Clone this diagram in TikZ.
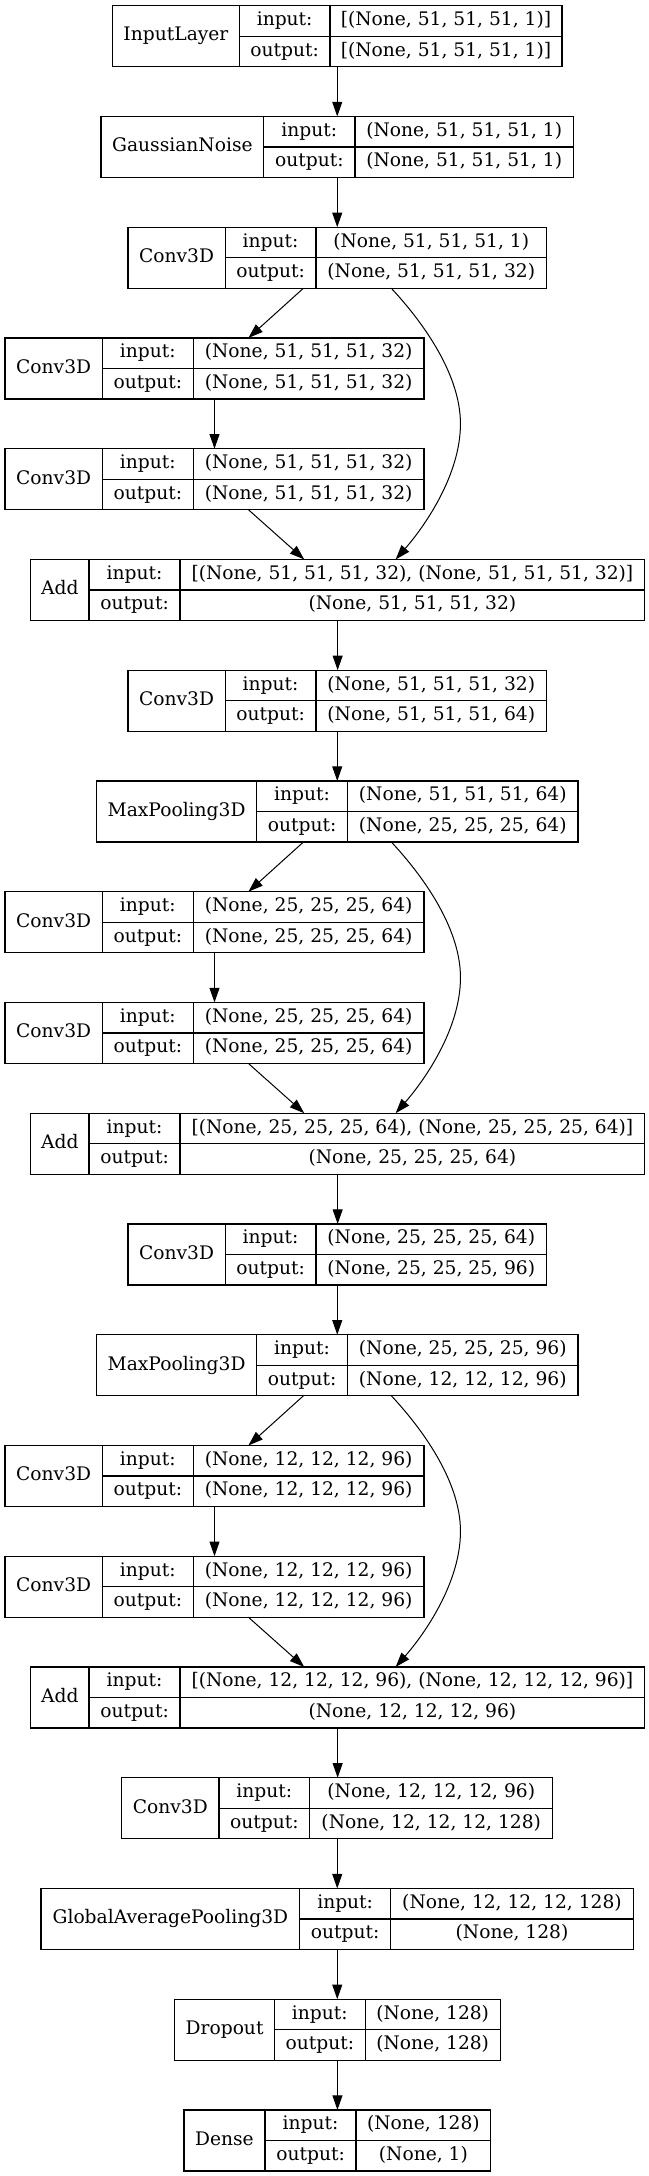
\documentclass[tikz,border=0pt]{standalone}
\usepackage{fontspec}
\setmainfont{DejaVu Serif}
\usetikzlibrary{arrows.meta,calc}
\tikzset{
  box/.style={draw, line width=1pt, inner sep=0pt, outer sep=0pt, anchor=north west, minimum height=45.75pt},
  cell/.style={line width=1pt},
  txt/.style={anchor=base, inner sep=0pt, font=\fontsize{14}{16}\selectfont},
  edge/.style={line width=0.75pt, -{Triangle[length=11pt,width=7.5pt]}},
}
% #1 name, #2 top, #3..#6 x borders, #7 label, #8 input, #9 output
\newcommand\layer[9]{%
  \node[box, minimum width={(#6-#3)*0.75pt}] (#1) at (#3,#2) {};
  \draw[cell] (#4,#2) -- (#4,#2+61) (#5,#2) -- (#5,#2+61) (#4,#2+30.5) -- (#6,#2+30.5);
  \node[txt] (#1l) at ({(#3+#4)/2},#2+35.3) {#7};
  \node[txt] (#1a) at ({(#4+#5)/2},#2+20) {input:};
  \node[txt] (#1b) at ({(#4+#5)/2},#2+50.5) {output:};
  \node[txt] (#1c) at ({(#5+#6)/2},#2+20) {#8};
  \node[txt] (#1d) at ({(#5+#6)/2},#2+50.5) {#9};
}
\begin{document}
\begin{tikzpicture}[x=0.75pt,y=-0.75pt]
\useasboundingbox (0,0) rectangle (649,2176);
\layer{n0}{5.7}{112.6}{239.3}{330.0}{561.9}{InputLayer}{[(None, 51, 51, 51, 1)]}{[(None, 51, 51, 51, 1)]}
\layer{n1}{116.45}{101.0}{263.8}{354.9}{573.5}{GaussianNoise}{(None, 51, 51, 51, 1)}{(None, 51, 51, 51, 1)}
\layer{n2}{227.2}{127.9}{225.3}{315.9}{546.6}{Conv3D}{(None, 51, 51, 51, 1)}{(None, 51, 51, 51, 32)}
\layer{n3}{337.95}{5.0}{102.3}{193.4}{424.0}{Conv3D}{(None, 51, 51, 51, 32)}{(None, 51, 51, 51, 32)}
\layer{n4}{448.7}{5.0}{102.3}{193.4}{424.0}{Conv3D}{(None, 51, 51, 51, 32)}{(None, 51, 51, 51, 32)}
\layer{n5}{559.45}{30.6}{89.0}{180.1}{644.7}{Add}{[(None, 51, 51, 51, 32), (None, 51, 51, 51, 32)]}{(None, 51, 51, 51, 32)}
\layer{n6}{670.2}{127.9}{225.3}{315.9}{546.6}{Conv3D}{(None, 51, 51, 51, 32)}{(None, 51, 51, 51, 64)}
\layer{n7}{780.95}{96.5}{256.7}{347.4}{578.1}{MaxPooling3D}{(None, 51, 51, 51, 64)}{(None, 25, 25, 25, 64)}
\layer{n8}{891.7}{5.0}{102.3}{193.4}{424.0}{Conv3D}{(None, 25, 25, 25, 64)}{(None, 25, 25, 25, 64)}
\layer{n9}{1002.45}{5.0}{102.3}{193.4}{424.0}{Conv3D}{(None, 25, 25, 25, 64)}{(None, 25, 25, 25, 64)}
\layer{n10}{1113.2}{30.6}{89.0}{180.1}{644.7}{Add}{[(None, 25, 25, 25, 64), (None, 25, 25, 25, 64)]}{(None, 25, 25, 25, 64)}
\layer{n11}{1223.95}{127.9}{225.3}{315.9}{546.6}{Conv3D}{(None, 25, 25, 25, 64)}{(None, 25, 25, 25, 96)}
\layer{n12}{1334.7}{96.5}{256.7}{347.4}{578.1}{MaxPooling3D}{(None, 25, 25, 25, 96)}{(None, 12, 12, 12, 96)}
\layer{n13}{1445.45}{5.0}{102.3}{193.4}{424.0}{Conv3D}{(None, 12, 12, 12, 96)}{(None, 12, 12, 12, 96)}
\layer{n14}{1556.2}{5.0}{102.3}{193.4}{424.0}{Conv3D}{(None, 12, 12, 12, 96)}{(None, 12, 12, 12, 96)}
\layer{n15}{1666.95}{30.6}{89.0}{180.1}{644.7}{Add}{[(None, 12, 12, 12, 96), (None, 12, 12, 12, 96)]}{(None, 12, 12, 12, 96)}
\layer{n16}{1777.7}{121.7}{219.0}{309.7}{552.8}{Conv3D}{(None, 12, 12, 12, 96)}{(None, 12, 12, 12, 128)}
\layer{n17}{1888.45}{41.0}{299.8}{390.5}{633.5}{GlobalAveragePooling3D}{(None, 12, 12, 12, 128)}{(None, 128)}
\layer{n18}{1999.2}{174.7}{274.5}{365.2}{500.2}{Dropout}{(None, 128)}{(None, 128)}
\layer{n19}{2109.95}{183.9}{265.0}{356.1}{490.7}{Dense}{(None, 128)}{(None, 1)}
% straight chain edges
\foreach \a/\b in {n0/n1,n1/n2,n5/n6,n6/n7,n10/n11,n11/n12,n15/n16,n16/n17,n17/n18,n18/n19}
  \draw[edge] (\a.south) -- (\a.south |- \b.north);
% residual blocks
\foreach \s/\p/\q/\d in {n2/n3/n4/n5,n7/n8/n9/n10,n12/n13/n14/n15}{
  \draw[edge] ($(\s.south)+(-33.8,0)$) -- ($(\p.north)+(33.9,0)$);
  \draw[edge] (\p.south) -- (\q.north);
  \draw[edge] ($(\q.south)+(33.9,0)$) -- ($(\d.north)+(-33.4,0)$);
  \draw[edge] ($(\s.south)+(54,0)$) .. controls +(28,30) and +(0,-52) ..
    ($(\s.south)!0.5!(\d.north)+(123,0)$) .. controls +(0,52) and +(28,-32) ..
    ($(\d.north)+(58,0)$);
}
\end{tikzpicture}
\end{document}
